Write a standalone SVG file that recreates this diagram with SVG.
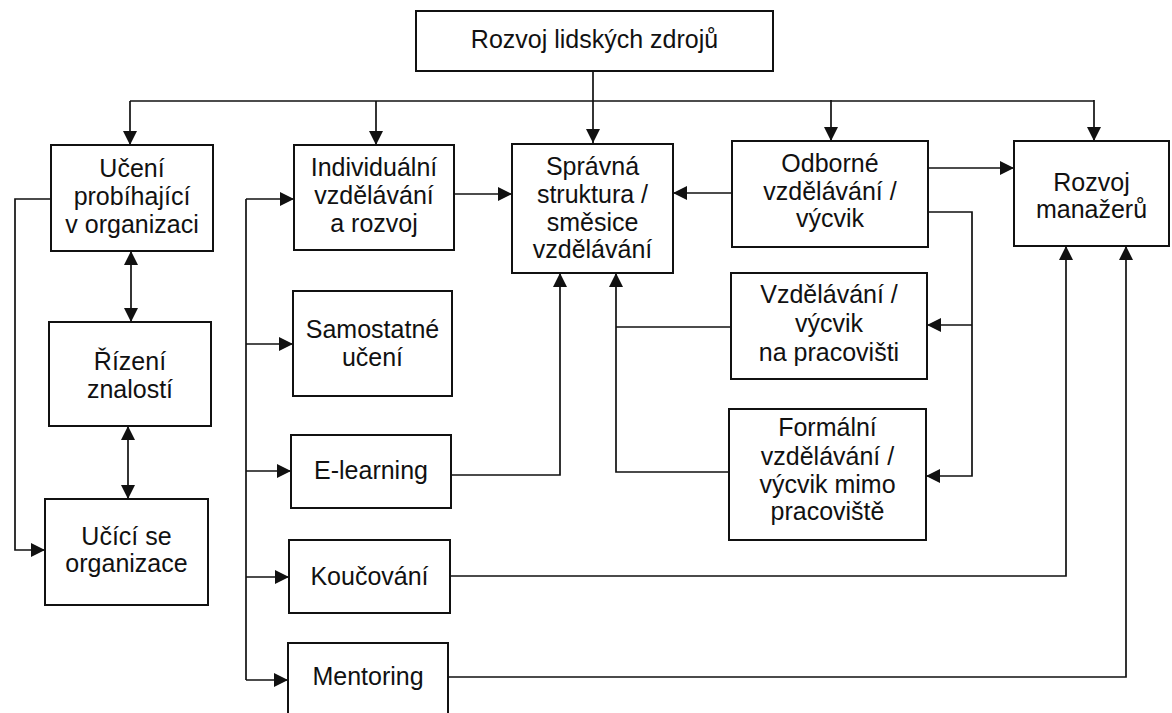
<svg xmlns="http://www.w3.org/2000/svg" width="1172" height="713" viewBox="0 0 1172 713">
<defs>
<marker id="ah" markerUnits="userSpaceOnUse" markerWidth="14" markerHeight="14" refX="14" refY="7" orient="auto-start-reverse" viewBox="0 0 14 14">
<path d="M0,0 L14,7 L0,14 z" fill="#111"/>
</marker>
<style>
.box{fill:#fff;stroke:#111;stroke-width:2}
.t{font-family:"Liberation Sans",Arial,sans-serif;font-size:25px;fill:#111;text-anchor:middle}
.c{fill:none;stroke:#111;stroke-width:1.7}
.a{marker-end:url(#ah)}
.b{marker-start:url(#ah);marker-end:url(#ah)}
</style>
</defs>
<rect width="1172" height="713" fill="#fff"/>
<g id="connectors">
<path class="c a" d="M593,71 V143"/>
<path class="c a" d="M130,101 V145"/>
<path class="c" d="M130,101 H1094"/>
<path class="c a" d="M376,101 V145"/>
<path class="c a" d="M831,100 V141"/>
<path class="c a" d="M1094,100 V141"/>
<path class="c a" d="M51,199 H15 V550 H45"/>
<path class="c b" d="M131,251 V322"/>
<path class="c b" d="M128,426 V499"/>
<path class="c" d="M246,199 V680"/>
<path class="c a" d="M246,199 H294"/>
<path class="c a" d="M246,344 H293"/>
<path class="c a" d="M246,471 H291"/>
<path class="c a" d="M246,577 H289"/>
<path class="c a" d="M246,680 H288"/>
<path class="c a" d="M454,194 H512"/>
<path class="c a" d="M732,193 H673"/>
<path class="c a" d="M928,168 H1014"/>
<path class="c a" d="M928,212 H972 V476 H926"/>
<path class="c a" d="M972,325 H927"/>
<path class="c a" d="M729,472 H616 V273"/>
<path class="c" d="M731,327 H616"/>
<path class="c a" d="M437,475 H560 V273"/>
<path class="c a" d="M450,576 H1066 V246"/>
<path class="c a" d="M448,677 H1126 V246"/>
</g>
<g id="top"><rect class="box" x="416" y="11" width="357" height="60"/><text class="t" x="594.5" y="48">Rozvoj lidských zdrojů</text></g>
<g id="uceni"><rect class="box" x="51" y="145" width="162" height="106"/><text class="t" x="132" y="177">Učení</text><text class="t" x="132" y="205">probíhající</text><text class="t" x="132" y="233">v organizaci</text></g>
<g id="rizeni"><rect class="box" x="49" y="322" width="162" height="104"/><text class="t" x="130" y="370">Řízení</text><text class="t" x="130" y="398">znalostí</text></g>
<g id="ucici"><rect class="box" x="45" y="499" width="163" height="106"/><text class="t" x="126.5" y="545">Učící se</text><text class="t" x="126.5" y="572">organizace</text></g>
<g id="individualni"><rect class="box" x="294" y="145" width="160" height="105"/><text class="t" x="374" y="176">Individuální</text><text class="t" x="374" y="204">vzdělávání</text><text class="t" x="374" y="232">a rozvoj</text></g>
<g id="samostatne"><rect class="box" x="293" y="291" width="159" height="105"/><text class="t" x="372.5" y="338">Samostatné</text><text class="t" x="372.5" y="366">učení</text></g>
<g id="elearning"><rect class="box" x="291" y="435" width="160" height="73"/><text class="t" x="371" y="479">E-learning</text></g>
<g id="koucovani"><rect class="box" x="289" y="540" width="161" height="73"/><text class="t" x="369.5" y="585">Koučování</text></g>
<g id="mentoring"><rect class="box" x="288" y="643" width="160" height="90"/><text class="t" x="368" y="685">Mentoring</text></g>
<g id="spravna"><rect class="box" x="512" y="144" width="161" height="129"/><text class="t" x="592.5" y="175">Správná</text><text class="t" x="592.5" y="203">struktura /</text><text class="t" x="592.5" y="231">směsice</text><text class="t" x="592.5" y="258">vzdělávání</text></g>
<g id="odborne"><rect class="box" x="732" y="141" width="196" height="106"/><text class="t" x="830" y="172">Odborné</text><text class="t" x="830" y="200">vzdělávání /</text><text class="t" x="830" y="227">výcvik</text></g>
<g id="pracoviste"><rect class="box" x="731" y="273" width="196" height="106"/><text class="t" x="829" y="303">Vzdělávání /</text><text class="t" x="829" y="332">výcvik</text><text class="t" x="829" y="361">na pracovišti</text></g>
<g id="formalni"><rect class="box" x="729" y="409" width="197" height="131"/><text class="t" x="827.5" y="436">Formální</text><text class="t" x="827.5" y="465">vzdělávání /</text><text class="t" x="827.5" y="493">výcvik mimo</text><text class="t" x="827.5" y="520">pracoviště</text></g>
<g id="manazeri"><rect class="box" x="1014" y="141" width="155" height="105"/><text class="t" x="1091.5" y="191">Rozvoj</text><text class="t" x="1091.5" y="218">manažerů</text></g>
</svg>
